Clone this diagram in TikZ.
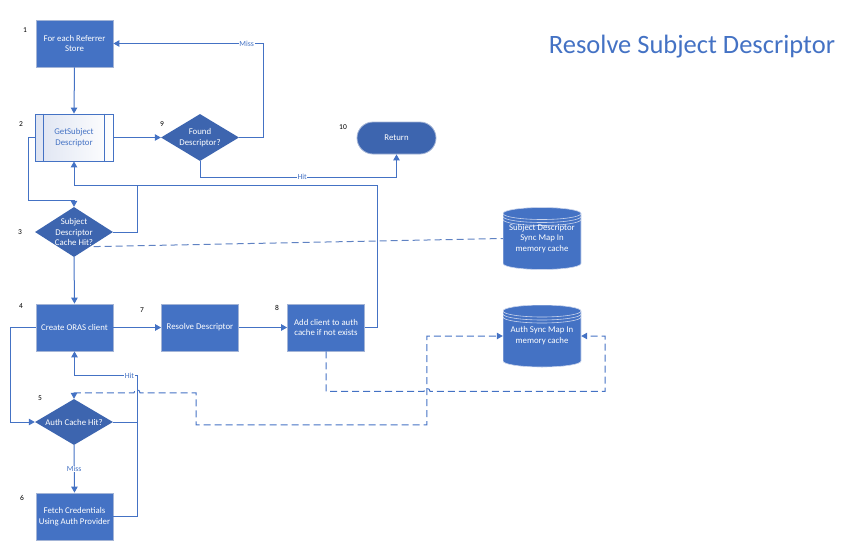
\documentclass[tikz,border=0pt]{standalone}
\usepackage{fontspec}
\setmainfont{Carlito}
\usetikzlibrary{arrows.meta,shapes.geometric,calc}
\definecolor{mblue}{HTML}{4472C4}
\definecolor{dblue}{HTML}{3D65AF}
\definecolor{edgec}{HTML}{A3B4D6}
\definecolor{stripec}{HTML}{C9D4EC}
\definecolor{shadel}{RGB}{222,228,242}
\definecolor{dashc}{RGB}{95,130,195}
\begin{document}
\begin{tikzpicture}[x=1pt,y=-1pt,
  every node/.style={font=\fontsize{8.8}{10.8}\selectfont},
  box/.style={rectangle, draw=edgec, line width=0.8pt, fill=mblue, text=white,
    minimum width=77pt, minimum height=47pt, inner sep=1pt, align=center},
  procbox/.style={rectangle, draw=mblue, line width=0.9pt,
    left color=shadel, right color=white, text=mblue,
    minimum width=78pt, minimum height=47pt, inner sep=1pt, align=center},
  dec/.style={diamond, fill=dblue, draw=none, minimum width=78pt, minimum height=47pt, inner sep=0pt},
  dtext/.style={text=white, align=center, inner sep=0pt},
  termbox/.style={rectangle, rounded corners=16pt, fill=dblue, draw=edgec, line width=0.8pt,
    text=white, minimum width=79pt, minimum height=32pt},
  cyl/.style={rectangle, minimum width=78pt, minimum height=62pt, inner sep=0pt,
    text=white, align=center,
    path picture={
      \path (path picture bounding box.north west) coordinate (pw)
            (path picture bounding box.south east) coordinate (pe);
      \path let \p1=(pw), \p2=(pe) in
        [fill=mblue, draw=stripec, line width=0.6pt]
        (\x1,\y1-6pt) -- (\x1,\y2+6pt)
        arc[start angle=180,end angle=360,x radius=39pt,y radius=6pt]
        -- (\x2,\y1-6pt)
        arc[start angle=0,end angle=180,x radius=39pt,y radius=6pt] -- cycle;
      \path let \p1=(pw), \p2=(pe) in
        [draw=stripec, line width=0.6pt]
        (\x1,\y1-6pt) arc[start angle=180,end angle=360,x radius=39pt,y radius=6pt]
        (\x1,\y1-9pt) arc[start angle=180,end angle=360,x radius=39pt,y radius=6pt]
        (\x1,\y1-12pt) arc[start angle=180,end angle=360,x radius=39pt,y radius=6pt];
    }},
  num/.style={text=black, font=\fontsize{7.5}{8.5}\selectfont},
  lbl/.style={fill=white, inner sep=0.5pt, text=mblue, font=\fontsize{7.8}{9}\selectfont},
  link/.style={draw=mblue, line width=1pt},
  conn/.style={link, -{Triangle[length=6pt,width=6.5pt]}},
  dlink/.style={link, dash pattern=on 7pt off 4pt}
]
\useasboundingbox (0,0) rectangle (851,552);

% title
\node[text=mblue, font=\fontsize{26.5}{30}\selectfont] (title) at (692,47) {Resolve Subject Descriptor};

% nodes
\node[box] (b1) at (74.5,43.5) {For each Referrer\\Store};
\node[procbox] (b2) at (74,137.5) {GetSubject\\Descriptor};
\draw[mblue, line width=0.8pt] ([xshift=9pt]b2.north west) -- ([xshift=9pt]b2.south west);
\draw[mblue, line width=0.8pt] ([xshift=-9pt]b2.north east) -- ([xshift=-9pt]b2.south east);
\node[dec] (d9) at (200,137.5) {};
\node[dtext] (d9t) at (200,137.5) {Found\\Descriptor?};
\node[termbox] (ret) at (396.5,138) {Return};
\node[dec, minimum height=50pt] (d3) at (74,232) {};
\node[dtext] (d3t) at (74,232) {Subject\\Descriptor\\Cache Hit?};
\node[box] (b4) at (74.5,327.5) {Create ORAS client};
\node[box] (b7) at (200,327.5) {Resolve Descriptor};
\node[box] (b8) at (326,327.5) {Add client to auth\\cache if not exists};
\node[dec, minimum height=46pt] (d5) at (74,422) {};
\node[dtext] (d5t) at (74,422) {Auth Cache Hit?};
\node[box] (b6) at (74.5,516.5) {Fetch Credentials\\Using Auth Provider};
\node[cyl] (c1) at (542,238.5) {Subject Descriptor\\Sync Map In\\memory cache};
\node[cyl] (c2) at (542,336) {Auth Sync Map In\\memory cache};

% step numbers
\node[num] (n1) at (25,30) {1};
\node[num] (n2) at (21,124) {2};
\node[num] (n9) at (162,124) {9};
\node[num] (n10) at (343,127) {10};
\node[num] (n3) at (20,232) {3};
\node[num] (n4) at (21,306) {4};
\node[num] (n7) at (142,310) {7};
\node[num] (n8) at (277,308) {8};
\node[num] (n5) at (40,398) {5};
\node[num] (n6) at (22,498) {6};

% connectors
\draw[conn] (b1.south) -- (b2.north);
\draw[conn] (b2.east) -- (d9.west);
\draw[conn] (d9.east) -- ++(24,0) |- node[lbl, pos=0.555]{Miss} (b1.east);
\draw[conn] (d9.south) -- ++(0,16) -| node[lbl, pos=0.26]{Hit} (ret.south);
\draw[conn] (b2.west) -- ++(-6,0) |- ($(d3.north)+(0,-6)$) -- (d3.north);
\draw[conn] (b8.east) -- ++(13,0) |- ($(b2.south)+(0,24)$) -- (b2.south);
\coordinate (j1) at (137,185);
\draw[link] (d3.east) -| (j1);
\draw[conn] (d3.south) -- (b4.north);
\draw[dlink, draw=dashc] ($(d3.south east)+(0,2)$) -- (c1.west);
\draw[conn] (b4.east) -- (b7.west);
\draw[conn] (b7.east) -- (b8.west);
\draw[conn] (b4.west) -- ++(-25,0) |- (d5.west);
\draw[conn] (d5.south) -- node[lbl]{Miss} (b6.north);
\draw[conn] (b6.east) -- ++(24,0) |- node[lbl, pos=0.563]{Hit} ($(b4.south)+(0,24)$) -- (b4.south);
\draw[link] (d5.east) -- ++(24,0);

% dashed cache links
\draw[dlink, {Triangle[length=6pt,width=6.5pt]}-{Triangle[length=6pt,width=6.5pt]}]
  (d5.north) -- ++(0,-6) -- ++(60,0) arc[start angle=180,end angle=0,radius=3pt]
  -- ++(56,0) -- ++(0,32) -| ($(c2.west)+(-76,0)$) -- (c2.west);
\draw[dlink, -{Triangle[length=6pt,width=6.5pt]}]
  (b8.south) -- ++(0,40) -- ++(98,0) arc[start angle=180,end angle=0,radius=3pt]
  -- ++(175,0) |- (c2.east);
\end{tikzpicture}
\end{document}
